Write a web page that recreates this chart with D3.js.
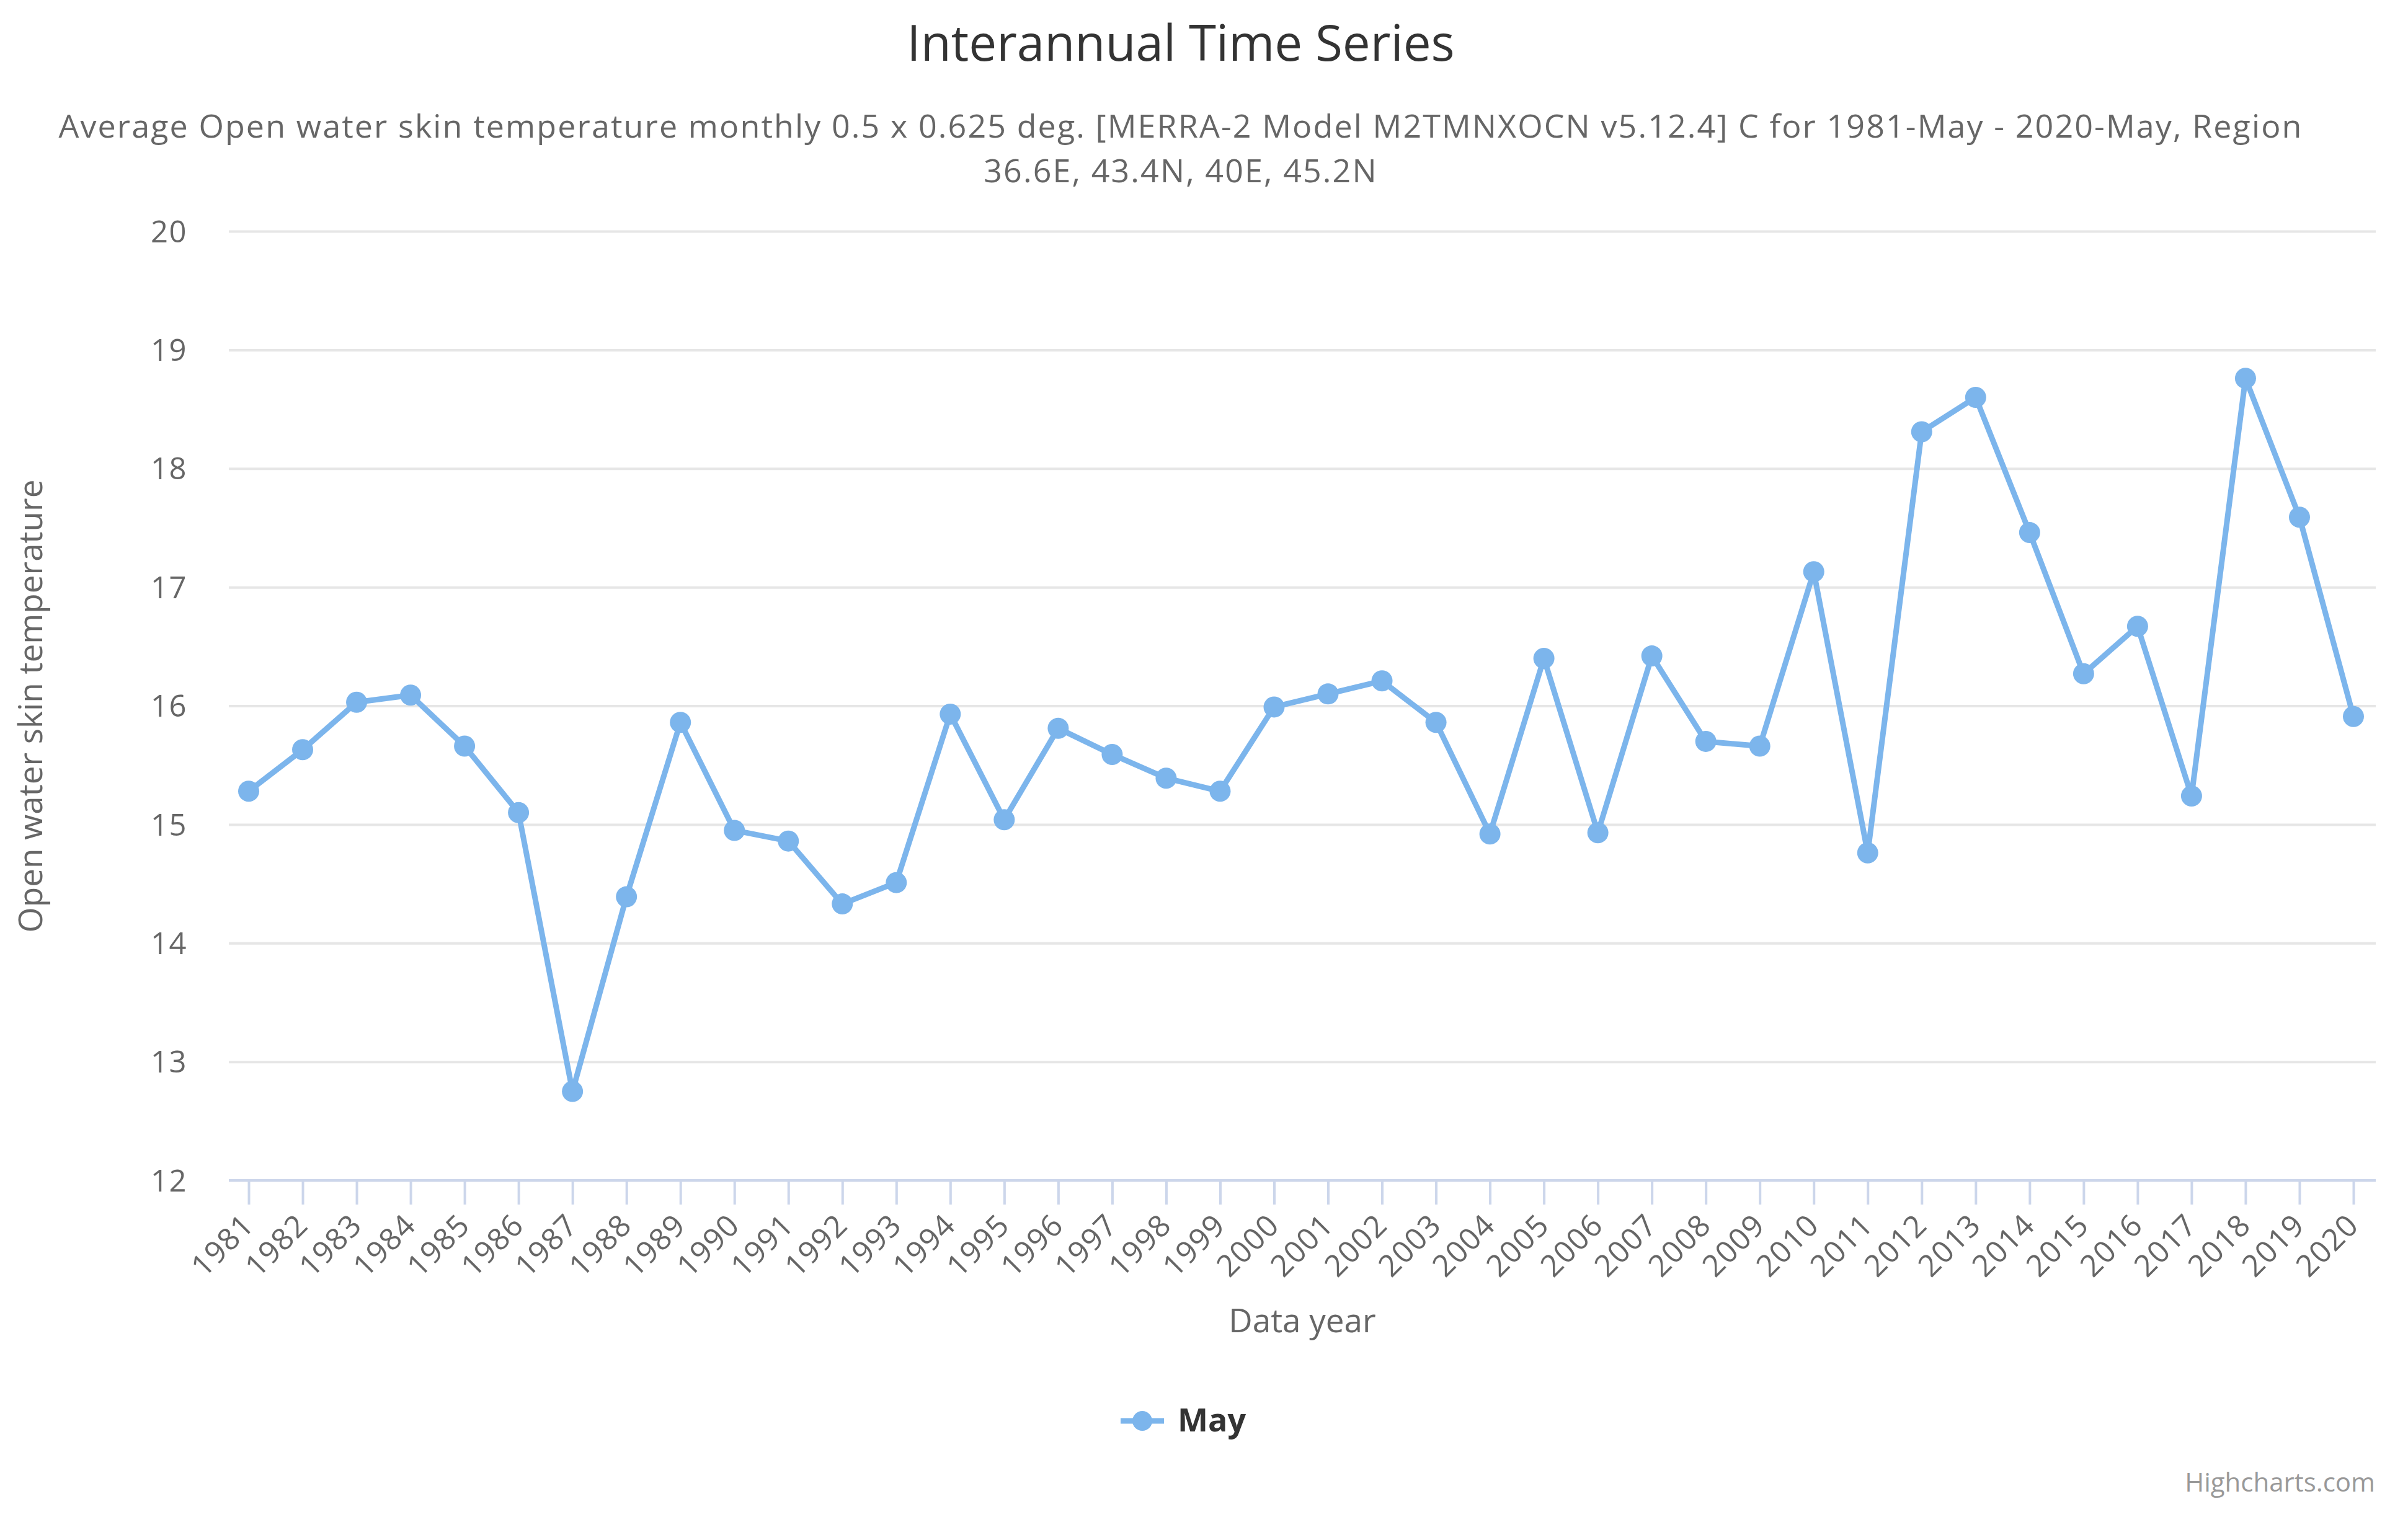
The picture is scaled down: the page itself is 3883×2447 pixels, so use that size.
<!DOCTYPE html>
<html>
<head>
<meta charset="utf-8">
<script src="https://cdn.jsdelivr.net/npm/d3@7"></script>
<style>
  html, body { margin: 0; padding: 0; background: #ffffff; }
  svg { display: block; font-family: "Open Sans", "Noto Sans", sans-serif; }
</style>
</head>
<body>
<svg id="chart" width="3883" height="2447"></svg>
<script>
// ---- data ----
const years = ["1981","1982","1983","1984","1985","1986","1987","1988","1989","1990",
  "1991","1992","1993","1994","1995","1996","1997","1998","1999","2000",
  "2001","2002","2003","2004","2005","2006","2007","2008","2009","2010",
  "2011","2012","2013","2014","2015","2016","2017","2018","2019","2020"];
const mayValues = [15.28, 15.63, 16.03, 16.09, 15.66, 15.10, 12.75, 14.39, 15.86, 14.95,
  14.86, 14.33, 14.51, 15.93, 15.04, 15.81, 15.59, 15.39, 15.28, 15.99,
  16.10, 16.21, 15.86, 14.92, 16.40, 14.93, 16.42, 15.70, 15.66, 17.13,
  14.76, 18.31, 18.60, 17.46, 16.27, 16.67, 15.24, 18.76, 17.59, 15.91];
const yTicks = [12, 13, 14, 15, 16, 17, 18, 19, 20];
const seriesName = "May";
const titleText = "Interannual Time Series";
const subtitleLines = [
  "Average Open water skin temperature monthly 0.5 x 0.625 deg. [MERRA-2 Model M2TMNXOCN v5.12.4] C for 1981-May - 2020-May, Region",
  "36.6E, 43.4N, 40E, 45.2N"
];
const yAxisTitle = "Open water skin temperature";
const xAxisTitle = "Data year";
const creditsText = "Highcharts.com";

// ---- layout ----
const plotLeft = 369, plotRight = 3831, plotTop = 373, plotBottom = 1904;
const color = "#7cb5ec";

const svg = d3.select("#chart");

const x = d3.scalePoint().domain(years).range([401, 3795]);
const y = d3.scaleLinear().domain([12, 20]).range([plotBottom, plotTop]);

// Title & subtitle
svg.append("text").attr("x", 1904).attr("y", 98)
  .attr("text-anchor", "middle").attr("fill", "#333333")
  .style("font-size", "80px").text(titleText);

svg.append("g").selectAll("text").data(subtitleLines).join("text")
  .attr("x", 1904).attr("y", (d, i) => 222 + i * 72)
  .attr("text-anchor", "middle").attr("fill", "#666666")
  .style("font-size", "52px").style("letter-spacing", "2.1px").text(d => d);

// Gridlines + y labels
const yAxis = d3.axisLeft(y).tickValues(yTicks).tickSize(-(plotRight - plotLeft)).tickPadding(67)
  .tickFormat(d3.format("d"));
const gy = svg.append("g").attr("transform", `translate(${plotLeft},0)`).call(yAxis);
gy.select(".domain").remove();
gy.selectAll(".tick line").attr("stroke", "#e6e6e6").attr("stroke-width", 4);
gy.selectAll(".tick text").attr("fill", "#666666").style("font-size", "49px")
  .style("letter-spacing", "1.5px")
  .style("font-family", "'Open Sans', sans-serif").attr("dy", "0.35em");

// X axis
const xAxis = d3.axisBottom(x).tickSize(39).tickSizeOuter(0).tickPadding(0);
const gx = svg.append("g").attr("transform", `translate(0,${plotBottom})`).call(xAxis);
gx.select(".domain").remove();
gx.selectAll(".tick line").attr("stroke", "#ccd6eb").attr("stroke-width", 4);
gx.selectAll(".tick text")
  .attr("fill", "#666666").style("font-size", "49px")
  .style("letter-spacing", "1.5px")
  .style("font-family", "'Open Sans', sans-serif")
  .attr("text-anchor", "end")
  .attr("dy", null)
  .attr("y", 0)
  .attr("transform", "translate(11,75) rotate(-45)");
svg.append("line").attr("x1", plotLeft).attr("x2", plotRight)
  .attr("y1", plotBottom).attr("y2", plotBottom)
  .attr("stroke", "#ccd6eb").attr("stroke-width", 4);

// Axis titles
svg.append("text").attr("transform", `translate(68,1139) rotate(-90)`)
  .attr("text-anchor", "middle").attr("fill", "#666666")
  .style("font-size", "53px").text(yAxisTitle);
svg.append("text").attr("x", 2100).attr("y", 2149)
  .attr("text-anchor", "middle").attr("fill", "#666666")
  .style("font-size", "53px").text(xAxisTitle);

// Series line
const pts = years.map((yr, i) => ({ year: yr, value: mayValues[i] }));
svg.append("path").datum(pts)
  .attr("fill", "none").attr("stroke", color).attr("stroke-width", 9)
  .attr("stroke-linejoin", "round").attr("stroke-linecap", "round")
  .attr("d", d3.line().x(d => x(d.year)).y(d => y(d.value)));
svg.append("g").selectAll("circle").data(pts).join("circle")
  .attr("cx", d => x(d.year)).attr("cy", d => y(d.value))
  .attr("r", 17).attr("fill", color);

// Legend
const lg = svg.append("g");
lg.append("line").attr("x1", 1807).attr("x2", 1877).attr("y1", 2292).attr("y2", 2292)
  .attr("stroke", color).attr("stroke-width", 9);
lg.append("circle").attr("cx", 1842).attr("cy", 2292).attr("r", 16).attr("fill", color);
lg.append("text").attr("x", 1899).attr("y", 2309).attr("fill", "#333333")
  .style("font-size", "52px").style("font-weight", "bold").text(seriesName);

// Credits
svg.append("text").attr("x", 3830).attr("y", 2406).attr("text-anchor", "end")
  .attr("fill", "#999999").style("font-size", "42px").text(creditsText);
</script>
</body>
</html>
